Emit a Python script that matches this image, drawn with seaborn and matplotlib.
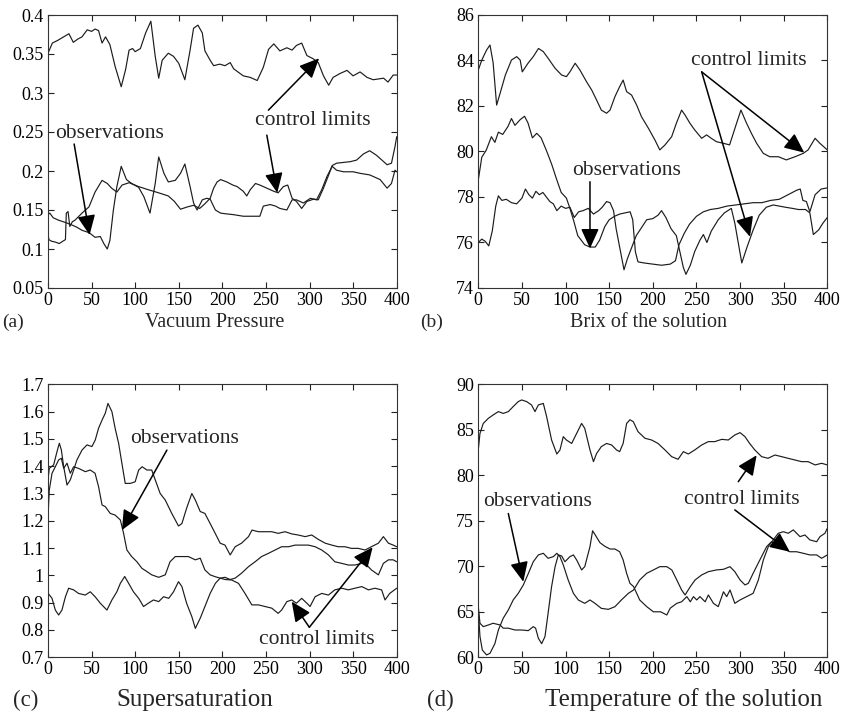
import numpy as np
import pandas as pd
import matplotlib
matplotlib.use("Agg")
import matplotlib.pyplot as plt
import seaborn as sns

# ---------------- data ----------------
x_ticks = [0, 50, 100, 150, 200, 250, 300, 350, 400]

# (a) Vacuum Pressure
a_upper = [(0,0.351),(5,0.364),(12,0.368),(18,0.372),(24,0.376),(29,0.365),(34,0.369),(39,0.372),(45,0.381),(50,0.379),
           (54,0.382),(58,0.380),(62,0.364),(66,0.372),(71,0.362),(77,0.334),(84,0.308),(89,0.330),(93,0.355),(97,0.357),
           (100,0.353),(106,0.357),(112,0.377),(118,0.392),(123,0.347),(127,0.319),(131,0.342),(138,0.351),(144,0.347),(150,0.338),
           (157,0.317),(163,0.355),(167,0.383),(172,0.387),(177,0.377),(180,0.354),(186,0.342),(190,0.335),(197,0.337),(203,0.335),
           (209,0.339),(213,0.331),(224,0.322),(232,0.320),(240,0.316),(247,0.333),(253,0.356),(259,0.363),(266,0.354),(274,0.358),
           (280,0.355),(285,0.361),(291,0.364),(297,0.348),(304,0.344),(310,0.339),(316,0.322),(322,0.310),(327,0.320),(335,0.325),
           (343,0.329),(350,0.322),(358,0.327),(366,0.320),(373,0.317),(385,0.319),(390,0.314),(396,0.323),(400,0.323)]
a_lower = [(0,0.120),(1,0.112),(4,0.110),(8,0.109),(13,0.107),(17,0.110),(20,0.112),(21,0.146),(23,0.148),(25,0.129),
           (28,0.135),(31,0.137),(39,0.146),(47,0.154),(54,0.173),(62,0.188),(68,0.184),(73,0.178),(79,0.173),(85,0.182),
           (93,0.185),(104,0.180),(115,0.176),(127,0.172),(138,0.168),(145,0.161),(152,0.151),(160,0.154),(167,0.156),(174,0.152),
           (180,0.158),(186,0.165),(190,0.178),(194,0.186),(198,0.189),(205,0.186),(212,0.182),(217,0.180),(224,0.174),(228,0.168),
           (232,0.176),(238,0.184),(243,0.182),(251,0.178),(259,0.174),(264,0.172),(270,0.180),(275,0.182),(280,0.165),(285,0.161),
           (291,0.152),(297,0.161),(305,0.164),(310,0.163),(316,0.178),(322,0.195),(326,0.207),(331,0.210),(339,0.211),(347,0.212),
           (354,0.214),(362,0.222),(369,0.226),(377,0.220),(383,0.214),(389,0.208),(394,0.210),(398,0.231),(400,0.244)]
a_obs = [(0,0.144),(2,0.146),(6,0.140),(12,0.137),(20,0.134),(27,0.131),(33,0.128),(39,0.124),(47,0.121),(54,0.115),
         (60,0.116),(64,0.107),(68,0.100),(71,0.111),(75,0.150),(79,0.180),(84,0.206),(90,0.189),(96,0.184),(104,0.179),
         (110,0.167),(117,0.146),(123,0.184),(127,0.218),(133,0.197),(138,0.186),(146,0.188),(152,0.197),(157,0.209),(163,0.180),
         (167,0.159),(171,0.150),(177,0.163),(182,0.165),(186,0.164),(192,0.150),(198,0.146),(205,0.145),(213,0.144),(224,0.142),
         (235,0.142),(243,0.142),(247,0.155),(255,0.157),(261,0.155),(266,0.152),(274,0.150),(280,0.163),(285,0.163),(293,0.159),
         (301,0.165),(308,0.163),(314,0.176),(320,0.193),(326,0.206),(331,0.201),(339,0.199),(350,0.199),(358,0.197),(369,0.195),
         (381,0.189),(389,0.178),(394,0.184),(398,0.201),(400,0.199)]
a_yticks = [0.05, 0.1, 0.15, 0.2, 0.25, 0.3, 0.35, 0.4]
a_yticklabels = ["0.05", "0.1", "0.15", "0.2", "0.25", "0.3", "0.35", "0.4"]

# (b) Brix of the solution
b_upper = [(0,83.58),(4,84.02),(9.5,84.46),(13.4,84.68),(17,83.9),(21,82.04),(25,82.56),(31,83.36),(38,84.02),(44,84.17),
           (48,84.02),(50.4,83.5),(57,83.88),(63,84.17),(69,84.53),(74.5,84.39),(80,84.1),(88,83.66),(95.5,83.36),(101,83.29),
           (105,83.5),(111,83.88),(116.5,83.58),(124,83.07),(130,82.7),(135.6,82.26),(141,81.82),(147,81.68),(151,81.82),(156.6,82.41),
           (162,82.85),(166,83.14),(170,82.63),(175.7,82.48),(181.5,82.04),(187,81.53),(195,81.02),(202.5,80.5),(208,80.07),(214,80.29),
           (221.6,80.65),(227,81.24),(233,81.82),(237,81.6),(242.6,81.24),(248,80.95),(256,80.58),(261.7,80.73),(267,80.58),(273,80.43),
           (281,80.36),(288,80.29),(296,81.24),(301,81.82),(307.5,81.24),(313,80.8),(319,80.36),(326.6,79.92),(334,79.77),(344,79.77),
           (353,79.63),(363,79.77),(372.5,79.92),(378,80.07),(386,80.58),(391.5,80.36),(400,80.07)]
b_obs = [(0,78.75),(4,79.75),(9,80.05),(15,80.65),(19,80.4),(23,80.85),(28,80.75),(34,81.1),(38,81.45),(42,81.15),
         (48,81.4),(53,81.55),(57,81.25),(62,80.6),(67,80.8),(72,80.6),(78,80.05),(84,79.45),(90,78.75),(95,78.2),
         (101,77.95),(105,77.5),(109,77.0),(114,76.3),(122,75.9),(128,75.8),(134,75.8),(139,76.1),(145,76.7),(150,77.0),
         (156,77.15),(162,77.25),(168,77.3),(174,77.35),(177,77.0),(180,75.6),(183,75.15),(190,75.1),(200,75.05),(210,75.0),
         (220,75.05),(226,75.2),(230,75.9),(236,76.4),(242,76.8),(250,77.15),(258,77.35),(266,77.45),(275,77.5),(285,77.6),
         (295,77.65),(305,77.7),(315,77.75),(325,77.75),(335,77.85),(345,77.9),(355,78.1),(365,78.3),(369,78.35),(372,77.85),
         (376,77.8),(380,77.35),(386,78.1),(393,78.35),(400,78.4)]
b_lower = [(0,76.0),(4,76.15),(8,76.05),(12,75.85),(16,76.5),(20,77.6),(23,78.05),(27,77.85),(32,77.9),(38,77.75),
           (44,77.7),(50,77.95),(54,78.35),(58,78.1),(62,77.95),(66,78.25),(70,78.1),(74,78.2),(78,78.0),(82,77.8),
           (86,77.7),(90,77.4),(95,77.6),(100,77.5),(105,77.55),(110,77.1),(115,77.35),(120,77.4),(126,77.5),(132,77.25),
           (138,77.4),(142,77.55),(147,77.8),(151,77.75),(155,77.4),(158,76.6),(163,75.6),(167,74.8),(171,75.3),(176,75.8),
           (181,76.3),(187,76.65),(193,77.0),(200,77.05),(206,77.2),(210,77.4),(215,77.1),(221,76.6),(227,76.3),(231,75.6),
           (235,74.9),(238,74.6),(243,75.0),(248,75.6),(254,76.1),(258,76.35),(262,76.0),(267,76.5),(275,77.0),(282,77.3),
           (290,77.5),(294,76.85),(302,75.1),(308,75.8),(315,76.55),(322,77.2),(330,77.55),(338,77.65),(345,77.6),(352,77.55),
           (360,77.5),(367,77.45),(375,77.45),(380,77.3),(384,76.35),(390,76.55),(395,76.85),(400,77.1)]
b_yticks = [74, 76, 78, 80, 82, 84, 86]
b_yticklabels = ["74", "76", "78", "80", "82", "84", "86"]

# (c) Supersaturation
c_upper = [(0,1.35),(1.5,1.392),(6.5,1.405),(10.3,1.453),(13,1.484),(15.3,1.46),(18,1.398),(21.8,1.331),(25.6,1.35),(29.4,1.386),
           (33.2,1.423),(39,1.459),(44.7,1.478),(50.4,1.472),(54.2,1.496),(58,1.539),(62,1.569),(65.7,1.594),(68.8,1.63),(73.3,1.6),
           (77,1.539),(81,1.484),(84.8,1.41),(88.6,1.337),(94.4,1.337),(100,1.343),(104,1.386),(108,1.398),(113.5,1.386),(119,1.386),
           (123,1.35),(128.7,1.3),(134.5,1.276),(142,1.227),(149.7,1.181),(153.6,1.19),(159,1.246),(165,1.3),(169,1.276),(174.6,1.234),
           (180,1.227),(186,1.19),(191.8,1.154),(197.5,1.118),(203,1.111),(209,1.075),(214.7,1.105),(222,1.118),(230,1.142),(234,1.166),
           (241.4,1.16),(249,1.16),(256.7,1.16),(264,1.154),(272,1.16),(279.6,1.152),(287,1.148),(295,1.142),(302.5,1.148),(310,1.132),
           (318,1.118),(325.5,1.111),(333,1.105),(340.7,1.105),(348,1.099),(356,1.099),(363.7,1.093),(371,1.105),(379,1.118),(384.7,1.142),
           (390.5,1.118),(396,1.111),(400,1.105)]
c_obs = [(0,1.215),(1.5,1.313),(4.6,1.374),(8.4,1.398),(12.2,1.423),(15.3,1.429),(18,1.392),(21.8,1.411),(25.6,1.374),(29.4,1.398),
         (35,1.392),(39,1.386),(42.8,1.38),(48.5,1.386),(54,1.374),(58,1.325),(62,1.258),(65.7,1.252),(71.4,1.227),(77,1.221),
         (83,1.203),(86.7,1.154),(90.5,1.093),(96,1.069),(102,1.05),(107.7,1.026),(113.5,1.014),(119,1.002),(127,0.993),(134.5,1.002),
         (140,1.05),(146,1.069),(153.6,1.069),(161,1.069),(169,1.057),(174.6,1.063),(180,1.02),(186,1.002),(192,0.995),(197.5,0.99),
         (203,0.985),(210.8,0.983),(218.5,0.971),(226,0.934),(233.8,0.892),(241.4,0.892),(249,0.886),(256.7,0.88),(264,0.861),(268,0.873),
         (274,0.904),(279.6,0.91),(285,0.898),(291,0.916),(297,0.898),(300.6,0.886),(306.4,0.922),(314,0.934),(321.7,0.928),(329,0.947),
         (337,0.953),(344.5,0.947),(352,0.953),(360,0.959),(367.6,0.947),(375,0.953),(382.7,0.947),(386.6,0.91),(392,0.934),(400,0.953)]
c_lower = [(0,0.935),(4.6,0.916),(8.4,0.873),(12.2,0.855),(16,0.873),(20,0.922),(23.7,0.953),(29.4,0.947),(35,0.934),(42.8,0.928),
           (48.5,0.94),(54,0.922),(60,0.898),(67.6,0.873),(73.3,0.91),(79,0.94),(83,0.971),(88,0.996),(92.5,0.971),(98,0.94),
           (104,0.916),(109.6,0.886),(115,0.898),(121,0.91),(127,0.904),(132.6,0.922),(138.5,0.916),(144,0.94),(149.7,0.977),(153.6,0.959),
           (159,0.898),(165,0.849),(169,0.806),(174.6,0.843),(180,0.886),(186,0.934),(192,0.971),(197.5,0.99),(203,0.993),(209,0.985),
           (214.7,0.99),(222,1.008),(230,1.032),(237.6,1.05),(245,1.069),(253,1.081),(260.5,1.093),(268,1.105),(276,1.105),(283.5,1.111),
           (291,1.111),(298.7,1.111),(306.4,1.105),(314,1.093),(321.7,1.075),(329,1.05),(337,1.044),(344.5,1.038),(352,1.038),(360,1.044),
           (365.6,1.038),(371,1.02),(379,1.002),(384.7,1.044),(390.5,1.057),(396,1.057),(400,1.05)]
c_yticks = [0.7, 0.8, 0.9, 1.0, 1.1, 1.2, 1.3, 1.4, 1.5, 1.6, 1.7]
c_yticklabels = ["0.7", "0.8", "0.9", "1", "1.1", "1.2", "1.3", "1.4", "1.5", "1.6", "1.7"]

# (d) Temperature of the solution
d_upper = [(0,82.8),(1.9,84.6),(5.7,85.7),(11.5,86.26),(17,86.63),(23,87.0),(28.6,86.8),(34.4,87.0),(40,87.55),(45.8,88.1),
           (49.7,88.28),(55.4,88.1),(61,87.73),(65,87.0),(68.8,87.73),(74.5,87.9),(78.3,86.45),(84,83.88),(90,82.34),(93.6,82.78),
           (97.4,84.25),(101,83.88),(107,83.5),(112.7,84.6),(118.4,85.7),(122,85.16),(128,82.78),(132,81.5),(135.6,82.4),(141,83.15),
           (147,83.5),(152.8,83.33),(158.5,82.78),(162,82.6),(166,83.5),(170,85.7),(173.8,86.1),(177.6,85.9),(183,84.8),(191,84.07),
           (198.6,83.88),(206,83.5),(214,82.78),(221.6,82.05),(229,81.76),(235,82.6),(240.7,82.34),(248,82.78),(256,83.33),(263.6,83.7),
           (271,83.7),(279,83.95),(286.5,83.88),(294,84.43),(300,84.69),(305.6,84.25),(311,83.5),(317,82.78),(324.7,82.05),(332,81.87),
           (340,82.23),(347.6,82.05),(355,81.87),(363,81.68),(370.5,81.5),(378,81.5),(386,81.14),(393.5,81.32),(400,81.14)]
d_obs = [(0,65.2),(1.9,62.3),(4.6,60.8),(9.5,60.26),(13.4,60.44),(19,61.5),(23,63.0),(28.6,64.3),(34.4,65.2),(40,66.3),
         (45.8,67.03),(51.6,67.95),(57.3,69.2),(63,70.5),(68.8,71.25),(74.5,71.43),(80,70.88),(86,71.06),(90,71.43),(93.6,71.06),
         (97.4,70.15),(103,68.5),(109,67.03),(114.6,66.3),(122,65.93),(128,66.3),(133.7,65.93),(141,65.38),(149,65.27),(156.6,65.56),
         (164,66.3),(172,67.03),(178,67.4),(185,68.5),(193,69.23),(200.7,69.6),(208,69.96),(216,69.96),(221.8,69.6),(227.5,68.5),
         (233,67.4),(237,66.85),(243,67.77),(248.5,68.5),(256,69.05),(263.7,69.41),(273,69.6),(281,69.67),(288.5,69.96),(294,69.41),
         (300,68.5),(305.7,67.95),(309.5,68.13),(315,69.23),(322.7,70.7),(330.5,72.16),(336,72.7),(341.8,72.34),(349.6,71.98),(357,71.6),
         (364.8,71.6),(372.5,71.43),(380,71.25),(387.8,71.25),(393.5,70.88),(400,71.25)]
d_lower = [(0,65.57),(1.9,63.74),(5.7,63.37),(11.5,63.55),(17,63.74),(25,63.55),(28.6,63.2),(34.4,63.2),(42,63.0),(49.7,63.0),
           (57.3,62.93),(63,63.37),(65.7,63.2),(68.8,62.1),(72.6,61.5),(76.4,62.27),(80,64.84),(84,67.77),(88,69.96),(91.7,71.25),
           (95.5,71.14),(99.3,70.5),(105,71.06),(109,71.25),(112.7,70.7),(118.4,69.6),(122,69.96),(128,72.16),(131,73.9),(133.7,73.5),
           (139.4,72.6),(145,72.2),(151,71.9),(156.6,71.9),(162,71.6),(166,70.7),(170,69.23),(173.8,68.13),(178,67.77),(185,66.3),
           (193,65.57),(200.7,65.0),(209,65.0),(216,64.65),(220,65.4),(227.5,65.93),(233,66.1),(239,66.67),(243,66.1),(246.6,66.67),
           (250.4,66.3),(254,66.67),(260,66.1),(263.7,66.85),(269.5,65.93),(275,65.57),(281,67.2),(284.7,66.67),(288.5,67.4),(294,65.93),
           (300,66.3),(307.6,66.67),(315,67.03),(321,68.5),(326.7,70.7),(332.4,72.16),(338,72.9),(343.8,73.63),(349.6,73.8),(355.3,73.63),
           (361,74.0),(368.7,73.26),(374.4,73.44),(380,72.9),(387.8,72.7),(391.6,73.26),(397.3,73.63),(400,74.17)]
d_yticks = [60, 65, 70, 75, 80, 85, 90]
d_yticklabels = ["60", "65", "70", "75", "80", "85", "90"]

panel_letters = ["(a)", "(b)", "(c)", "(d)"]
panel_titles = ["Vacuum Pressure", "Brix of the solution", "Supersaturation", "Temperature of the solution"]

# ---------------- style ----------------
sns.set_style("ticks")
plt.rcParams["font.family"] = ["Liberation Serif", "DejaVu Serif"]
plt.rcParams["mathtext.fontset"] = "stix"

W, H = 842, 713
fig = plt.figure(figsize=(W / 100, H / 100), dpi=100)

def fx(px):
    return px / W

def fy(py):
    return 1 - py / H

LINE_C = "#1c1c1c"
axes_px = [(48.0, 15.0, 396.7, 288.0), (478.3, 15.0, 827.3, 288.0),
           (48.0, 384.3, 396.7, 657.3), (478.3, 384.3, 827.3, 657.3)]
panels = [
    (a_upper, a_lower, a_obs, a_yticks, a_yticklabels),
    (b_upper, b_obs, b_lower, b_yticks, b_yticklabels),
    (c_upper, c_obs, c_lower, c_yticks, c_yticklabels),
    (d_upper, d_obs, d_lower, d_yticks, d_yticklabels),
]

axes = []
for (x0, y0, x1, y1), (s1, s2, s3, yt, ytl) in zip(axes_px, panels):
    ax = fig.add_axes([fx(x0), fy(y1), (x1 - x0) / W, (y1 - y0) / H])
    for s in (s1, s2, s3):
        df = pd.DataFrame(s, columns=["t", "v"])
        sns.lineplot(data=df, x="t", y="v", ax=ax, color=LINE_C, lw=0.85,
                     estimator=None, sort=False, legend=False)
    ax.set_xlim(0, 400)
    ax.set_ylim(yt[0], yt[-1])
    ax.set_xticks(x_ticks)
    ax.set_xticklabels([str(t) for t in x_ticks])
    ax.set_yticks(yt)
    ax.set_yticklabels(ytl)
    ax.set_xlabel("")
    ax.set_ylabel("")
    ax.tick_params(direction="in", top=True, right=True, length=4, width=0.8,
                   labelsize=13, pad=3, colors="#222222", labelcolor="black")
    for sp in ax.spines.values():
        sp.set_visible(True)
        sp.set_linewidth(0.8)
        sp.set_color("#333333")
    axes.append(ax)

ax_a, ax_b, ax_c, ax_d = axes

# ---------------- annotations ----------------
ANN_FS = 15.5
arrow_kw = dict(arrowstyle="-|>,head_length=0.55,head_width=0.25", color="black",
                lw=1.1, shrinkA=0, shrinkB=0, mutation_scale=22)

def arrow(ax, start, tip):
    ax.annotate("", xy=tip, xytext=start, arrowprops=arrow_kw, annotation_clip=False)

# (a)
ax_a.text(8.4, 0.2417, "observations", fontsize=ANN_FS, va="baseline", ha="left")
arrow(ax_a, (30, 0.2346), (47.7, 0.118))
ax_a.text(237.6, 0.259, "control limits", fontsize=ANN_FS, va="baseline", ha="left")
arrow(ax_a, (252.8, 0.278), (311, 0.3445))
arrow(ax_a, (251, 0.246), (263, 0.172))

# (b)
ax_b.text(243.4, 83.80, "control limits", fontsize=ANN_FS, va="baseline", ha="left")
arrow(ax_b, (256, 83.5), (373.6, 79.95))
arrow(ax_b, (256, 83.5), (311.4, 76.25))
ax_b.text(107, 78.97, "observations", fontsize=ANN_FS, va="baseline", ha="left")
arrow(ax_b, (128, 78.67), (128, 75.74))

# (c)
ax_c.text(94.3, 1.485, "observations", fontsize=ANN_FS, va="baseline", ha="left")
arrow(ax_c, (136.4, 1.459), (84.8, 1.166))
ax_c.text(242.5, 0.749, "control limits", fontsize=ANN_FS, va="baseline", ha="left")
arrow(ax_c, (299.8, 0.81), (279.6, 0.904))
arrow(ax_c, (299.8, 0.81), (372.4, 1.103))

# (d)
ax_d.text(5.7, 76.6, "observations", fontsize=ANN_FS, va="baseline", ha="left")
arrow(ax_d, (34.4, 75.8), (51.6, 68.3))
ax_d.text(236, 76.85, "control limits", fontsize=ANN_FS, va="baseline", ha="left")
arrow(ax_d, (298, 79.3), (319, 82.2))
arrow(ax_d, (294, 76.2), (357, 71.6))

# ---------------- panel letters & titles ----------------
fig.text(fx(2), fy(327), panel_letters[0], fontsize=14, va="baseline", ha="left")
fig.text(fx(420), fy(327), panel_letters[1], fontsize=14, va="baseline", ha="left")
fig.text(fx(13), fy(706), panel_letters[2], fontsize=16.5, va="baseline", ha="left")
fig.text(fx(427), fy(706), panel_letters[3], fontsize=16.5, va="baseline", ha="left")

fig.text(fx(145), fy(327), panel_titles[0], fontsize=14.5, va="baseline", ha="left")
fig.text(fx(570), fy(327), panel_titles[1], fontsize=14.5, va="baseline", ha="left")
fig.text(fx(116), fy(706), panel_titles[2], fontsize=18, va="baseline", ha="left")
fig.text(fx(545), fy(706), panel_titles[3], fontsize=18, va="baseline", ha="left")

fig.savefig("out.png", dpi=100, facecolor="white")
